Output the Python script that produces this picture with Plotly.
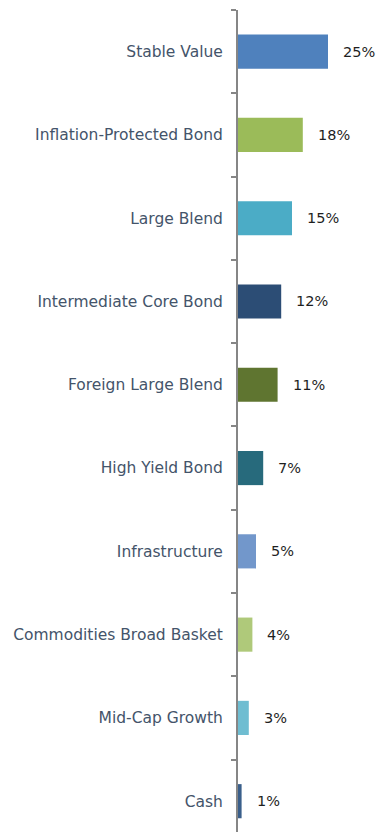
import plotly.graph_objects as go

categories = ["Stable Value", "Inflation-Protected Bond", "Large Blend", "Intermediate Core Bond",
              "Foreign Large Blend", "High Yield Bond", "Infrastructure",
              "Commodities Broad Basket", "Mid-Cap Growth", "Cash"]
values = [25, 18, 15, 12, 11, 7, 5, 4, 3, 1]
value_labels = ["25%", "18%", "15%", "12%", "11%", "7%", "5%", "4%", "3%", "1%"]
colors = ["#4F81BD", "#9BBB59", "#4BACC6", "#2C4D75", "#5F7530", "#276A7C",
          "#7297CB", "#AFC97A", "#6FBDD1", "#3A5F8B"]

FONT = "DejaVu Sans"

fig = go.Figure(go.Bar(
    x=values, y=categories, orientation="h",
    marker=dict(color=colors, line=dict(width=0)),
    width=0.41, hoverinfo="skip",
))

for c, v, t in zip(categories, values, value_labels):
    fig.add_annotation(x=v, y=c, text=t, showarrow=False, xanchor="left", yanchor="middle",
                       xshift=13, font=dict(family=FONT, size=14.5, color="#1F1F1F"))

fig.update_layout(
    width=391, height=832,
    margin=dict(l=238, r=0, t=9.5, b=0),
    paper_bgcolor="white", plot_bgcolor="white",
    showlegend=False,
    xaxis=dict(range=[0, 42.5], visible=False, fixedrange=True),
    yaxis=dict(
        type="category", categoryorder="array", categoryarray=categories,
        range=[9.37, -0.5],
        showline=True, linecolor="#868686", linewidth=2,
        ticks="outside", ticklen=5, tickwidth=1.5, tickcolor="#868686",
        tickson="boundaries", showgrid=False, zeroline=False,
        ticklabelstandoff=10,
        tickfont=dict(family=FONT, size=15.5, color="#44546A"),
        automargin=False, fixedrange=True,
    ),
)

fig.write_html("out.html")
